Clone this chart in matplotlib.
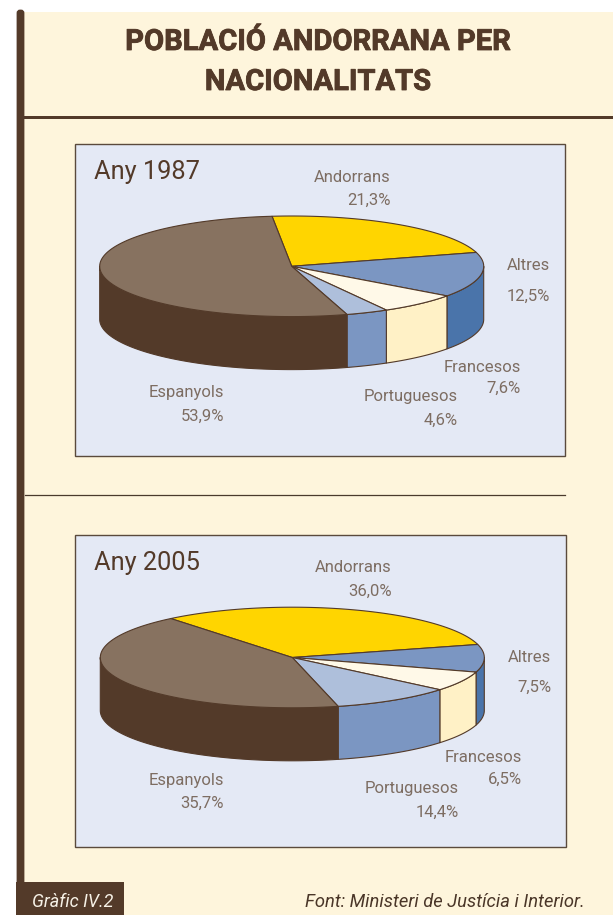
import numpy as np
import matplotlib
matplotlib.use("Agg")
import matplotlib.pyplot as plt
import matplotlib.patheffects as pe
from matplotlib.patches import Polygon, Rectangle, FancyBboxPatch

# donnees
categories = ["Andorrans", "Altres", "Francesos", "Portuguesos", "Espanyols"]
valors_1987 = [21.3, 12.5, 7.6, 4.6, 53.9]
valors_2005 = [36.0, 7.5, 6.5, 14.4, 35.7]

top_colors = ["#FFD500", "#7B96C2", "#FFF9E8", "#AEBFDB", "#877260"]
side_colors = ["#FFD500", "#4A74AA", "#FFF1C6", "#7B96C2", "#533A29"]

BROWN = "#533A29"
CREAM = "#FEF5DC"
PANEL = "#E4E9F5"
GREY = "#7D6D62"
FONT = "Roboto"

# positions des etiquettes (droite du texte, y nom, y valeur)
pos_1987 = [(391, 176, 199), (550, 265, 295), (521, 366, 387), (458, 396, 419), (224, 391, 415)]
pos_2005 = [(392, 567, 590), (551, 656, 686), (522, 757, 778), (459, 787, 811), (224, 779, 802)]

fig = plt.figure(figsize=(6.13, 9.15), dpi=100)
ax = fig.add_axes([0, 0, 1, 1])
ax.set_xlim(0, 613)
ax.set_ylim(915, 0)
ax.axis("off")


def angle(theta, deform):
    # deformation due a l'inclinaison du camembert
    c, a, b = deform
    return theta + c + a * np.sin(np.radians(2 * theta)) + b * np.sin(np.radians(theta))


def arc(cx, cy, rx, ry, t1, t2):
    t = np.radians(np.linspace(t1, t2, 120))
    return np.column_stack([cx + rx * np.cos(t), cy - ry * np.sin(t)])


def pie3d(valeurs, cx, cy, rx, ry, depth, deform):
    total = sum(valeurs)
    debut = valeurs[0] / total * 360
    bornes = [debut]
    for v in valeurs:
        bornes.append(bornes[-1] - v / total * 360)

    # parois avant
    for i in range(len(valeurs)):
        a = angle(bornes[i], deform)
        b = angle(bornes[i + 1], deform)
        a2 = min(a, 0)
        b2 = max(b, -180)
        if a2 > b2:
            haut = arc(cx, cy, rx, ry, a2, b2)
            bas = haut[::-1] + [0, depth]
            ax.add_patch(Polygon(np.vstack([haut, bas]), closed=True, fc=side_colors[i],
                                 ec=BROWN, lw=0.8, joinstyle="round"))
    # dessus
    for i in range(len(valeurs)):
        pts = arc(cx, cy, rx, ry, angle(bornes[i], deform), angle(bornes[i + 1], deform))
        ax.add_patch(Polygon(np.vstack([[cx, cy], pts]), closed=True, fc=top_colors[i],
                             ec=BROWN, lw=0.8, joinstyle="round"))


def panneau(x, y, annee, valeurs, positions, cy, deform):
    ax.add_patch(Rectangle((x, y), 490.6, 312.5, fc=PANEL, ec="#5A4A3C", lw=1))
    ax.text(x + 19, y + 28, annee, family=FONT, fontsize=18.3, color=BROWN, va="center", ha="left")
    pie3d(valeurs, x + 217, cy, 192, 50.3, 53, deform)
    for nom, v, (xr, y1, y2) in zip(categories, valeurs, positions):
        ax.text(xr, y1 + 1, nom, family=FONT, fontsize=12, color=GREY, va="center", ha="right")
        ax.text(xr, y2 + 1, f"{v:.1f}%".replace(".", ","), family=FONT, fontsize=12, color=GREY,
                va="center", ha="right")


# fond
ax.add_patch(Rectangle((24, 12), 589, 903, fc=CREAM, ec="none"))
ax.add_patch(FancyBboxPatch((18, 11), 5, 920, boxstyle="round,pad=0,rounding_size=2", fc=BROWN, ec=BROWN, lw=2))
ax.add_patch(Rectangle((24, 116), 589, 3.2, fc=BROWN, ec="none"))
ax.plot([25, 565], [495, 495], color="#4A3A2C", lw=0.9)

# titre
gras = [pe.withStroke(linewidth=0.6, foreground=BROWN)]
ax.text(318, 42, "POBLACIÓ ANDORRANA PER", family=FONT, fontweight="bold", fontsize=21,
        color=BROWN, ha="center", va="center", path_effects=gras)
ax.text(318, 82, "NACIONALITATS", family=FONT, fontweight="bold", fontsize=21,
        color=BROWN, ha="center", va="center", path_effects=gras)

panneau(74.7, 143.8, "Any 1987", valors_1987, pos_1987, 266.3, (16, 7, 0))
panneau(75.3, 534.7, "Any 2005", valors_2005, pos_2005, 657.5, (15, 10, -7))

# pied
ax.add_patch(Rectangle((16, 882), 108, 33, fc=BROWN, ec="none"))
ax.text(73, 902, "Gràfic IV.2", family=FONT, style="italic", fontsize=13, color="#F6F1E6",
        ha="center", va="center")
ax.text(585, 902, "Font: Ministeri de Justícia i Interior.", family=FONT, style="italic",
        fontsize=13.2, color="#4A3628", ha="right", va="center")

fig.savefig("out.png", dpi=100)
